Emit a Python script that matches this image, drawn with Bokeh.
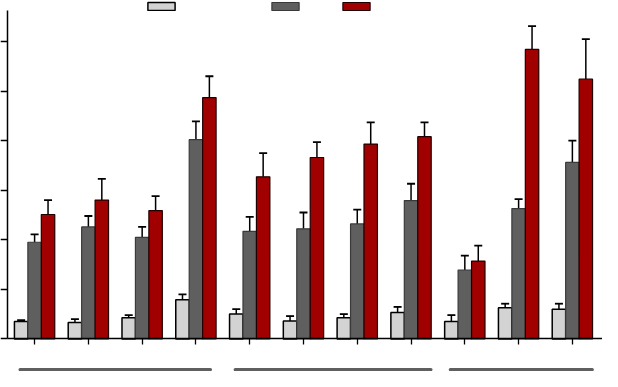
import numpy as np
from bokeh.plotting import figure
from bokeh.models import (ColumnDataSource, Whisker, TeeHead, Legend, LegendItem,
                          FixedTicker, Range1d)
from bokeh.core.properties import value
from bokeh.embed import file_html
from bokeh.resources import INLINE

# ---- data ----
groups = list(range(11))
series_a = [3.5, 3.3, 4.25, 7.9, 5.0, 3.6, 4.25, 5.35, 3.5, 6.3, 6.0]
series_a_err = [3.8, 4.0, 4.8, 9.0, 6.0, 4.6, 5.0, 6.45, 4.8, 7.1, 7.1]
series_b = [19.5, 22.6, 20.5, 40.2, 21.7, 22.2, 23.2, 27.9, 13.9, 26.3, 35.6]
series_b_err = [21.1, 24.8, 22.6, 43.9, 24.6, 25.5, 26.1, 31.3, 16.8, 28.2, 40.0]
series_c = [25.1, 28.0, 25.9, 48.7, 32.7, 36.6, 39.3, 40.8, 15.7, 58.4, 52.4]
series_c_err = [28.0, 32.3, 28.8, 53.0, 37.5, 39.7, 43.7, 43.7, 18.8, 63.1, 60.5]
y_ticks = [0, 10, 20, 30, 40, 50, 60]
# group brackets under the axis (first and last group index of each block)
block_first = [0, 4, 8]
block_last = [3, 7, 10]

colors = ["#d3d3d3", "#5f5f5f", "#a00000"]
outlines = ["#000000", "#3a3a3a", "#200000"]
line_ws = [1.5, 1.2, 1.2]
offsets = [-0.25, 0.0, 0.25]
bar_w = 0.25

p = figure(width=602, height=371, output_backend="svg", toolbar_location=None,
           x_range=Range1d(-0.634, 10.56), y_range=Range1d(-6.58, 68.28),
           min_border=0, min_border_left=0, min_border_right=0,
           min_border_top=0, min_border_bottom=0)
p.outline_line_color = None
p.xgrid.visible = False
p.ygrid.visible = False
p.background_fill_color = "white"

renderers = []
for vals, errs, col, oc, lw, off in zip([series_a, series_b, series_c],
                                        [series_a_err, series_b_err, series_c_err],
                                        colors, outlines, line_ws, offsets):
    xs = np.array(groups, dtype=float) + off
    src = ColumnDataSource(dict(x=xs, top=vals, err=errs))
    r = p.vbar(x="x", top="top", bottom=0, width=bar_w, source=src,
               fill_color=col, line_color=oc, line_width=lw)
    renderers.append(r)
    w = Whisker(base="x", lower="top", upper="err", source=src, dimension="height",
                line_color="black", line_width=1.5,
                lower_head=None,
                upper_head=TeeHead(size=8, line_color="black", line_width=1.8))
    p.add_layout(w)

# block brackets
bx0 = [b - 0.27 for b in block_first]
bx1 = [b + (0.27 if i == 0 else 0.37) for i, b in enumerate(block_last)]
p.segment(x0=bx0, y0=[-6.2] * 3, x1=bx1, y1=[-6.2] * 3,
          line_color="#5f5f5f", line_width=3.2, line_cap="round")

# axes (the reference shows no tick labels)
xa = p.xaxis[0]
xa.fixed_location = 0
xa.bounds = (-0.5, 10.6)
xa.ticker = FixedTicker(ticks=groups)
xa.major_label_overrides = {g: "" for g in groups}
xa.major_tick_in = 0
xa.major_tick_out = 6
xa.minor_tick_line_color = None
xa.axis_line_width = 1.5
xa.major_tick_line_width = 1.3

ya = p.yaxis[0]
ya.fixed_location = -0.5
ya.bounds = (0, 66.3)
ya.ticker = FixedTicker(ticks=y_ticks)
ya.major_label_overrides = {t: "" for t in y_ticks}
ya.major_tick_in = 0
ya.major_tick_out = 7
ya.minor_tick_line_color = None
ya.axis_line_width = 1.5
ya.major_tick_line_width = 1.3

# legend swatches (labels are blank in the reference)
leg_x = [144, 268, 339]
for r, lx in zip(renderers, leg_x):
    lg = Legend(items=[LegendItem(label=value(""), renderers=[r])],
                location=(lx, 360), orientation="horizontal",
                glyph_width=34, glyph_height=10, label_width=0, label_height=10,
                label_standoff=0, padding=0, margin=0, spacing=0,
                border_line_alpha=0, background_fill_alpha=0)
    p.add_layout(lg, "center")

open("out.html", "w").write(file_html(p, INLINE))
